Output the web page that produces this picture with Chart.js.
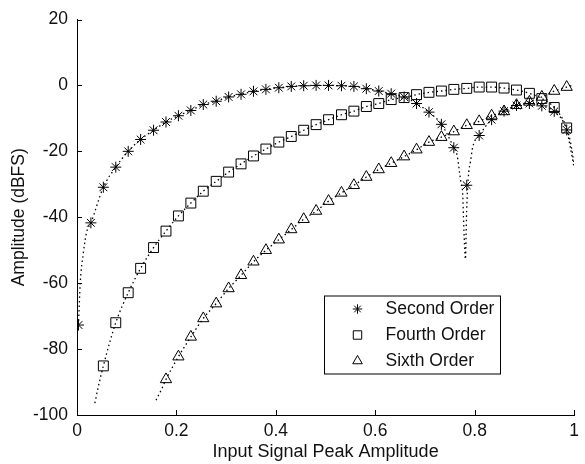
<!DOCTYPE html>
<html>
<head>
<meta charset="utf-8">
<title>Even-order harmonic amplitude</title>
<script src="https://cdn.jsdelivr.net/npm/chart.js"></script>
<style>
  html, body { margin: 0; padding: 0; background: #fff; }
  canvas { display: block; }
</style>
</head>
<body>
<canvas id="harmonicChart" width="585" height="464"></canvas>
<script>
// input peak amplitude of each measured point
const inputAmp = [
  0.003, 0.028, 0.053, 0.078, 0.103, 0.128, 0.154, 0.179, 0.204, 0.229,
  0.254, 0.280, 0.305, 0.330, 0.355, 0.380, 0.406, 0.431, 0.456, 0.481,
  0.506, 0.532, 0.557, 0.582, 0.607, 0.632, 0.658, 0.683, 0.708, 0.733,
  0.758, 0.784, 0.809, 0.834, 0.859, 0.884, 0.910, 0.935, 0.960, 0.985
];

// measured harmonic levels, dBFS (null = below the plotted range)
const secondOrder = [
  -72.7, -41.7, -30.9, -24.8, -20.0, -16.4, -13.6, -11.1, -9.2, -7.6,
  -5.8, -4.8, -3.5, -2.7, -1.8, -1.2, -0.7, -0.3, -0.1, 0.0,
  0.0, -0.1, -0.3, -1.0, -1.7, -2.5, -3.5, -5.5, -8.1, -11.8,
  -18.9, -30.3, -15.2, -10.4, -7.8, -6.1, -5.5, -6.2, -7.9, -13.5
];
const fourthOrder = [
  null, null, -85.1, -72.0, -62.9, -55.5, -49.2, -44.2, -39.6, -35.7,
  -32.1, -29.1, -26.3, -23.8, -21.4, -19.3, -17.2, -15.5, -13.6, -11.9,
  -10.4, -8.9, -7.8, -6.4, -5.5, -4.3, -3.7, -2.8, -2.1, -1.7,
  -1.2, -0.9, -0.5, -0.5, -0.8, -1.4, -2.4, -4.0, -6.7, -12.9
];
const sixthOrder = [
  null, null, null, null, null, null, null, -89.2, -82.3, -76.3,
  -70.7, -66.2, -61.6, -57.6, -53.5, -50.0, -46.8, -43.7, -40.6, -38.1,
  -35.1, -32.6, -30.3, -27.8, -25.5, -23.6, -21.6, -19.5, -17.2, -15.7,
  -14.0, -12.1, -10.9, -9.2, -7.9, -6.0, -5.0, -3.5, -1.7, -0.5
];

// extra [x, dBFS] points of the dotted theoretical curves
const secondCurveExtra = [
  [0.0065, -60.0], [0.0126, -51.0], [0.0194, -44.5],
  [0.7646, -21.2], [0.7694, -26.3], [0.7726, -29.8], [0.7760, -33.3],
  [0.7774, -40.0], [0.7794, -48.0], [0.7814, -52.7], [0.7826, -46.0],
  [0.7838, -38.0], [0.7856, -31.5], [0.7880, -26.3], [0.7914, -23.2],
  [0.7960, -18.7], [0.9920, -18.5], [1.0, -25.0]
];
const fourthCurveExtra = [[0.036, -96.4], [0.0426, -91.6], [0.993, -17.5], [1.0, -24.0]];
const sixthCurveExtra = [[0.159, -95.5], [0.1694, -92.4], [1.0, 0.2]];
// measured points kept off the second-order curve around its null
const secondCurveSkip = [0.762, 0.80];

const xTicks = [0, 0.2, 0.4, 0.6, 0.8, 1];
const yTicks = [-100, -80, -60, -40, -20, 0, 20];

const FONT = "'Liberation Sans', Arial, Helvetica, sans-serif";
const INK = '#000';
Chart.defaults.font.family = FONT;
Chart.defaults.font.size = 17.5;
Chart.defaults.color = '#111';

function markerPoints(values) {
  return inputAmp
    .map((x, i) => ({ x: x, y: values[i] }))
    .filter(p => p.y !== null);
}

function curvePoints(values, extra, skip) {
  const pts = markerPoints(values).filter(p => !skip || p.x < skip[0] || p.x > skip[1]);
  return pts.concat(extra.map(p => ({ x: p[0], y: p[1] })))
    .sort((a, b) => a.x - b.x);
}

function markerSet(label, values, style, radius) {
  return {
    label: label,
    data: markerPoints(values),
    showLine: false,
    pointStyle: style,
    pointRadius: radius,
    pointHoverRadius: radius,
    pointBorderColor: INK,
    pointBackgroundColor: 'rgba(0,0,0,0)',
    pointBorderWidth: 1,
    inLegend: true
  };
}

function curveSet(values, extra, skip) {
  return {
    label: '',
    data: curvePoints(values, extra, skip),
    showLine: true,
    pointRadius: 0,
    pointHoverRadius: 0,
    borderColor: INK,
    borderWidth: 1.3,
    borderDash: [1.5, 3],
    cubicInterpolationMode: 'monotone',
    fill: false
  };
}

// inward tick marks and the boxed legend inside the plot
const axisDecor = {
  id: 'axisDecor',
  afterDraw(chart) {
    const { ctx, chartArea, scales } = chart;
    ctx.save();
    ctx.strokeStyle = INK;
    ctx.lineWidth = 1;
    ctx.beginPath();
    scales.x.ticks.forEach(t => {
      const px = Math.round(scales.x.getPixelForValue(t.value)) + 0.5;
      ctx.moveTo(px, chartArea.bottom);
      ctx.lineTo(px, chartArea.bottom - 5);
    });
    scales.y.ticks.forEach(t => {
      const py = Math.round(scales.y.getPixelForValue(t.value)) + 0.5;
      ctx.moveTo(chartArea.left, py);
      ctx.lineTo(chartArea.left + 5, py);
    });
    ctx.stroke();

    const left = chartArea.left + 247.5;
    const top = chartArea.top + 276.5;
    const w = 176, h = 78;
    ctx.fillStyle = '#fff';
    ctx.fillRect(left, top, w, h);
    ctx.strokeRect(left, top, w, h);

    const rows = chart.data.datasets.filter(d => d.inLegend);
    ctx.font = '17.5px ' + FONT;
    ctx.textBaseline = 'middle';
    ctx.textAlign = 'left';
    rows.forEach((d, i) => {
      const y = top + 13 + i * 26;
      ctx.fillStyle = 'rgba(0,0,0,0)';
      ctx.strokeStyle = INK;
      ctx.lineWidth = 1;
      Chart.helpers.drawPoint(ctx, {
        pointStyle: d.pointStyle,
        radius: d.pointRadius * 0.85,
        borderWidth: 1,
        rotation: 0
      }, left + 33, y);
      ctx.fillStyle = '#111';
      ctx.fillText(d.label, left + 61, y);
    });
    ctx.restore();
  }
};

const ctx = document.getElementById('harmonicChart').getContext('2d');
new Chart(ctx, {
  type: 'scatter',
  data: {
    datasets: [
      markerSet('Second Order', secondOrder, 'star', 5.5),
      markerSet('Fourth Order', fourthOrder, 'rect', 7),
      markerSet('Sixth Order', sixthOrder, 'triangle', 6.5),
      curveSet(secondOrder, secondCurveExtra, secondCurveSkip),
      curveSet(fourthOrder, fourthCurveExtra, null),
      curveSet(sixthOrder, sixthCurveExtra, null)
    ]
  },
  options: {
    responsive: false,
    animation: false,
    devicePixelRatio: 1,
    layout: { padding: { top: 19, right: 8, left: 0, bottom: 0 } },
    plugins: {
      legend: { display: false },
      tooltip: { enabled: false }
    },
    scales: {
      x: {
        type: 'linear',
        min: xTicks[0],
        max: xTicks[xTicks.length - 1],
        afterBuildTicks: s => { s.ticks = xTicks.map(v => ({ value: v })); },
        afterFit: s => { s.height = 49; },
        ticks: {
          padding: 6,
          color: '#111',
          callback: v => String(v)
        },
        grid: { display: false, drawTicks: false, tickLength: 0 },
        border: { display: true, color: INK, width: 1 },
        title: {
          display: true,
          text: 'Input Signal Peak Amplitude',
          color: '#111',
          font: { size: 18 },
          padding: { top: 0, bottom: 1.5 }
        }
      },
      y: {
        type: 'linear',
        min: yTicks[0],
        max: yTicks[yTicks.length - 1],
        afterBuildTicks: s => { s.ticks = yTicks.map(v => ({ value: v })); },
        afterFit: s => { s.width = 77; },
        ticks: {
          padding: 9,
          color: '#111',
          callback: v => String(v)
        },
        grid: { display: false, drawTicks: false, tickLength: 0 },
        border: { display: true, color: INK, width: 1 },
        title: {
          display: true,
          text: 'Amplitude (dBFS)',
          color: '#111',
          padding: { top: 9, bottom: 0 }
        }
      }
    }
  },
  plugins: [axisDecor]
});
</script>
</body>
</html>
